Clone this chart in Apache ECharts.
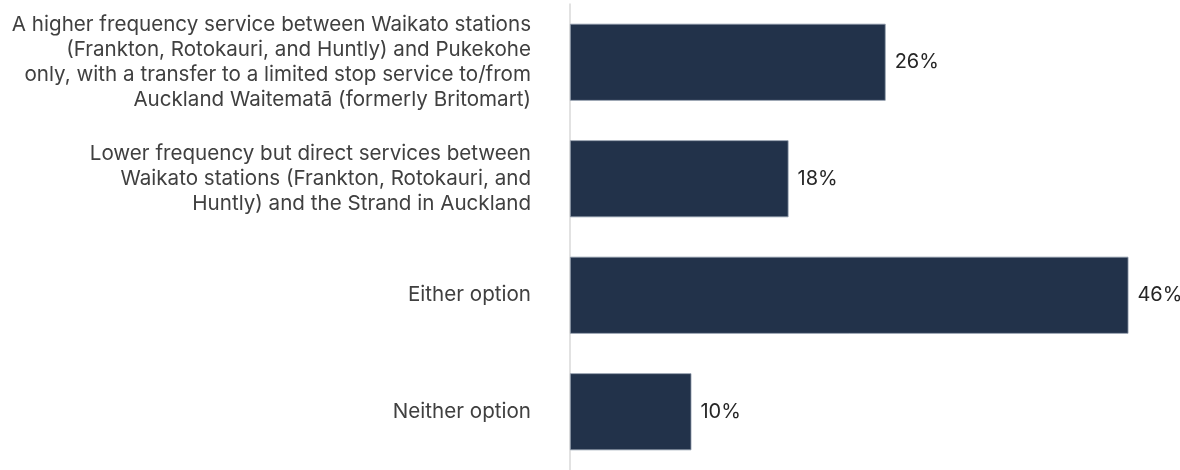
<!DOCTYPE html>
<html>
<head>
<meta charset="utf-8">
<script src="https://cdn.jsdelivr.net/npm/echarts@6/dist/echarts.min.js"></script>
<style>
  html, body { margin: 0; padding: 0; background: #ffffff; }
  #chart { width: 1180px; height: 470px; }
</style>
</head>
<body>
<div id="chart"></div>
<script>
// Preferred service option (share of respondents, %)
const categories = [
  'A higher frequency service between Waikato stations\n(Frankton, Rotokauri, and Huntly) and Pukekohe\nonly, with a transfer to a limited stop service to/from\nAuckland Waitematā (formerly Britomart)',
  'Lower frequency but direct services between\nWaikato stations (Frankton, Rotokauri, and\nHuntly) and the Strand in Auckland',
  'Either option',
  'Neither option'
];
const shares = [26, 18, 46, 10];

const chart = echarts.init(document.getElementById('chart'), null, { renderer: 'canvas' });

chart.setOption({
  animation: false,
  backgroundColor: '#ffffff',
  textStyle: { fontFamily: 'Inter, sans-serif' },
  grid: { left: 570, right: 3, top: 4, bottom: 0, containLabel: false },
  xAxis: {
    type: 'value',
    min: 0,
    max: 50,
    show: false
  },
  yAxis: {
    type: 'category',
    data: categories,
    inverse: true,
    axisLine: { show: true, lineStyle: { color: '#d9d9d9', width: 1.5 } },
    axisTick: { show: false },
    splitLine: { show: false },
    axisLabel: {
      margin: 39,
      color: '#404040',
      fontSize: 20.6,
      lineHeight: 25,
      align: 'right'
    }
  },
  series: [{
    type: 'bar',
    data: shares,
    barWidth: 77,
    itemStyle: {
      color: '#22324a',
      borderColor: '#8d98a8',
      borderWidth: 0.8
    },
    label: {
      show: true,
      position: 'right',
      distance: 9,
      color: '#262626',
      fontSize: 20,
      formatter: p => p.value + '%'
    }
  }]
});
</script>
</body>
</html>
